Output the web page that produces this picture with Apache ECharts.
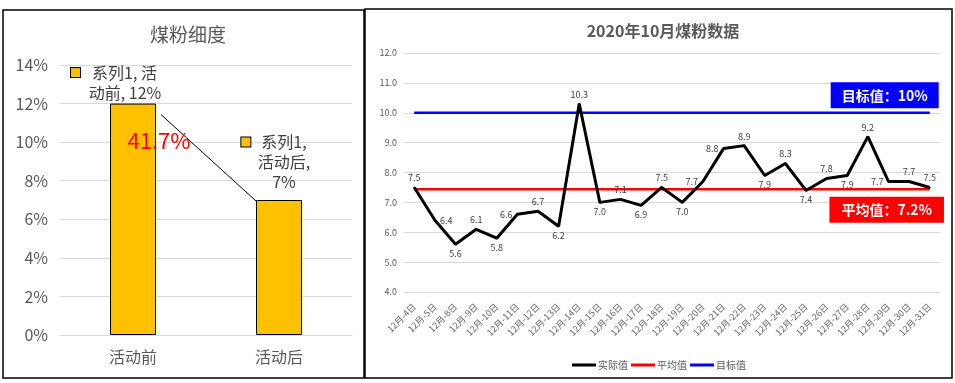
<!DOCTYPE html>
<html>
<head>
<meta charset="utf-8">
<script src="https://cdn.jsdelivr.net/npm/echarts@6/dist/echarts.min.js"></script>
<style>
html,body{margin:0;padding:0;background:#fff;}
#c{width:955px;height:383px;}
</style>
</head>
<body>
<div id="c"></div>
<script>
// ---- Left chart data ----
const barCategories = ['活动前', '活动后'];
const barValues = [0.12, 0.07];
const barTicks = [0, 0.02, 0.04, 0.06, 0.08, 0.10, 0.12, 0.14];

// ---- Right chart data ----
const lineCategories = ['12月-4日','12月-5日','12月-8日','12月-9日','12月-10日','12月-11日','12月-12日','12月-13日','12月-14日','12月-15日','12月-16日','12月-17日','12月-18日','12月-19日','12月-20日','12月-21日','12月-22日','12月-23日','12月-24日','12月-25日','12月-26日','12月-27日','12月-28日','12月-29日','12月-30日','12月-31日'];
const actualValues = [7.5,6.4,5.6,6.1,5.8,6.6,6.7,6.2,10.3,7.0,7.1,6.9,7.5,7.0,7.7,8.8,8.9,7.9,8.3,7.4,7.8,7.9,9.2,7.7,7.7,7.5];
const averageValues = [7.44,7.44,7.44,7.44,7.44,7.44,7.44,7.44,7.44,7.44,7.44,7.44,7.44,7.44,7.44,7.44,7.44,7.44,7.44,7.44,7.44,7.44,7.44,7.44,7.44,7.44];
const targetValues = [10,10,10,10,10,10,10,10,10,10,10,10,10,10,10,10,10,10,10,10,10,10,10,10,10,10];
const seriesNames = ['实际值','平均值','目标值'];
const averageText = '平均值：7.2%';
const targetText = '目标值：10%';

// label placement style (not data)
const labelPos = ['top','right','bottom','top','bottom','left','top','bottom','top','bottom','top','bottom','top','bottom','left','left','top','bottom','top','bottom','top','bottom','top','left','top','top'];

const FONT = '"Noto Sans CJK SC", "Microsoft YaHei", sans-serif';
const chart = echarts.init(document.getElementById('c'));

const sqStyle = {width: 9, height: 9, backgroundColor: '#FFC000', borderColor: '#000', borderWidth: 1, verticalAlign: 'middle'};
const barLabelText = [
  '{sq|}{g1|}{t|系列1, 活}{p1|}\n{t|动前, ' + Math.round(barValues[0]*100) + '%}',
  '{sq|}{g2|}{t|系列1,}{p2|}\n{t|活动后,}\n{t|' + Math.round(barValues[1]*100) + '%}'
];

const actualData = actualValues.map((v, i) => ({
  value: v,
  label: {position: labelPos[i]}
}));
const avgData = averageValues.map((v, i) => i === averageValues.length - 1 ? {
  value: v,
  label: {show: true, position: 'bottom', distance: 7, offset: [-43, 0], formatter: averageText,
    backgroundColor: '#FF0000', color: '#fff', fontWeight: 'bold', fontSize: 14, lineHeight: 16, padding: [5, 12], fontFamily: FONT}
} : v);
const tgtData = targetValues.map((v, i) => i === targetValues.length - 1 ? {
  value: v,
  label: {show: true, position: 'top', distance: 4, offset: [-45, 0], formatter: targetText,
    backgroundColor: '#0000FF', color: '#fff', fontWeight: 'bold', fontSize: 14, lineHeight: 16, padding: [5, 11], fontFamily: FONT}
} : v);

const option = {
  animation: false,
  textStyle: {fontFamily: FONT},
  title: [
    {text: '煤粉细度', left: 183, top: 20, textAlign: 'center',
      textStyle: {fontSize: 19, fontWeight: 'normal', color: '#595959', fontFamily: FONT}},
    {text: '2020年10月煤粉数据', left: 658, top: 18, textAlign: 'center',
      textStyle: {fontSize: 16, fontWeight: 'bold', color: '#595959', fontFamily: FONT}}
  ],
  legend: {
    data: seriesNames.map(n => ({name: n, icon: 'rect'})),
    left: 567, top: 355, itemWidth: 24, itemHeight: 3, itemGap: 3,
    textStyle: {fontSize: 10, color: '#595959', fontFamily: FONT, padding: [0, 0, 0, -3]}
  },
  grid: [
    {left: 60, top: 65, width: 292, height: 270},
    {left: 404, top: 53, width: 536, height: 239}
  ],
  xAxis: [
    {gridIndex: 0, type: 'category', data: barCategories,
      axisLine: {show: true, lineStyle: {color: '#d9d9d9'}}, axisTick: {show: false},
      axisLabel: {fontSize: 16, color: '#595959', margin: 14, fontFamily: FONT}},
    {gridIndex: 1, type: 'category', data: lineCategories, boundaryGap: true,
      axisLine: {show: true, lineStyle: {color: '#d9d9d9'}}, axisTick: {show: false},
      axisLabel: {fontSize: 9, color: '#666666', rotate: 45, interval: 0, margin: 13, fontFamily: FONT}}
  ],
  yAxis: [
    {gridIndex: 0, type: 'value', min: barTicks[0], max: barTicks[barTicks.length-1], interval: 0.02,
      axisLine: {show: false}, axisTick: {show: false},
      splitLine: {lineStyle: {color: '#d9d9d9'}},
      axisLabel: {fontSize: 16, color: '#595959', margin: 12, fontFamily: FONT,
        formatter: v => Math.round(v*100) + '%'}},
    {gridIndex: 1, type: 'value', min: 4, max: 12, interval: 1,
      axisLine: {show: false}, axisTick: {show: false},
      splitLine: {lineStyle: {color: '#d9d9d9'}},
      axisLabel: {fontSize: 9, color: '#595959', margin: 7, fontFamily: FONT,
        formatter: v => v.toFixed(1)}}
  ],
  series: [
    {type: 'bar', name: '系列1', xAxisIndex: 0, yAxisIndex: 0, barWidth: 46,
      data: barValues.map((v, i) => ({
        value: v,
        label: i === 0 ? {offset: [-8, 0], distance: 1} : {offset: [5, 0], distance: 8}
      })),
      itemStyle: {color: '#FFC000', borderColor: '#000', borderWidth: 1},
      label: {show: true, position: 'top', color: '#404040', fontFamily: FONT,
        formatter: p => barLabelText[p.dataIndex],
        rich: {
          sq: sqStyle,
          g1: {width: 12}, p1: {width: 22},
          g2: {width: 11}, p2: {width: 20},
          t: {fontSize: 16, lineHeight: 20, color: '#404040', fontFamily: FONT}}}
    },
    {type: 'line', name: seriesNames[0], xAxisIndex: 1, yAxisIndex: 1, data: actualData,
      symbol: 'circle', symbolSize: 2, showSymbol: true,
      lineStyle: {color: '#000', width: 3}, itemStyle: {color: '#000'},
      label: {show: true, fontSize: 9, color: '#404040', distance: 4, fontFamily: FONT,
        formatter: p => p.value.toFixed(1)}, z: 5},
    {type: 'line', name: seriesNames[1], xAxisIndex: 1, yAxisIndex: 1, data: avgData,
      symbol: 'circle', symbolSize: 1, showSymbol: true,
      lineStyle: {color: '#FF0000', width: 2.5}, itemStyle: {color: '#FF0000'}, z: 3},
    {type: 'line', name: seriesNames[2], xAxisIndex: 1, yAxisIndex: 1, data: tgtData,
      symbol: 'circle', symbolSize: 1, showSymbol: true,
      lineStyle: {color: '#0000FF', width: 2.5}, itemStyle: {color: '#0000FF'}, z: 3}
  ]
};
chart.setOption(option);

// annotations computed from the bar data via the chart's scales
const p0 = chart.convertToPixel({xAxisIndex: 0, yAxisIndex: 0}, [0, barValues[0]]);
const p1 = chart.convertToPixel({xAxisIndex: 0, yAxisIndex: 0}, [1, barValues[1]]);
const pct = ((barValues[0] - barValues[1]) / barValues[0] * 100).toFixed(1) + '%';
const pMid = chart.convertToPixel({xAxisIndex: 0, yAxisIndex: 0}, [0, 0.101]);
chart.setOption({
  graphic: [
    {type: 'rect', shape: {x: 3, y: 10, width: 361, height: 368}, style: {fill: 'none', stroke: '#000', lineWidth: 1.5}, silent: true},
    {type: 'rect', shape: {x: 365, y: 9, width: 587, height: 369}, style: {fill: 'none', stroke: '#000', lineWidth: 1.5}, silent: true},
    {type: 'line', shape: {x1: p0[0] + 28, y1: p0[1] + 11, x2: p1[0] - 23, y2: p1[1] + 1},
      style: {stroke: '#000', lineWidth: 1}, z: 10},
    {type: 'text', x: pMid[0] + 26, y: pMid[1], z: 11,
      style: {text: pct, fill: '#FF0000', fontSize: 22, fontFamily: FONT, textAlign: 'center', textVerticalAlign: 'middle'}}
  ]
});
</script>
</body>
</html>
